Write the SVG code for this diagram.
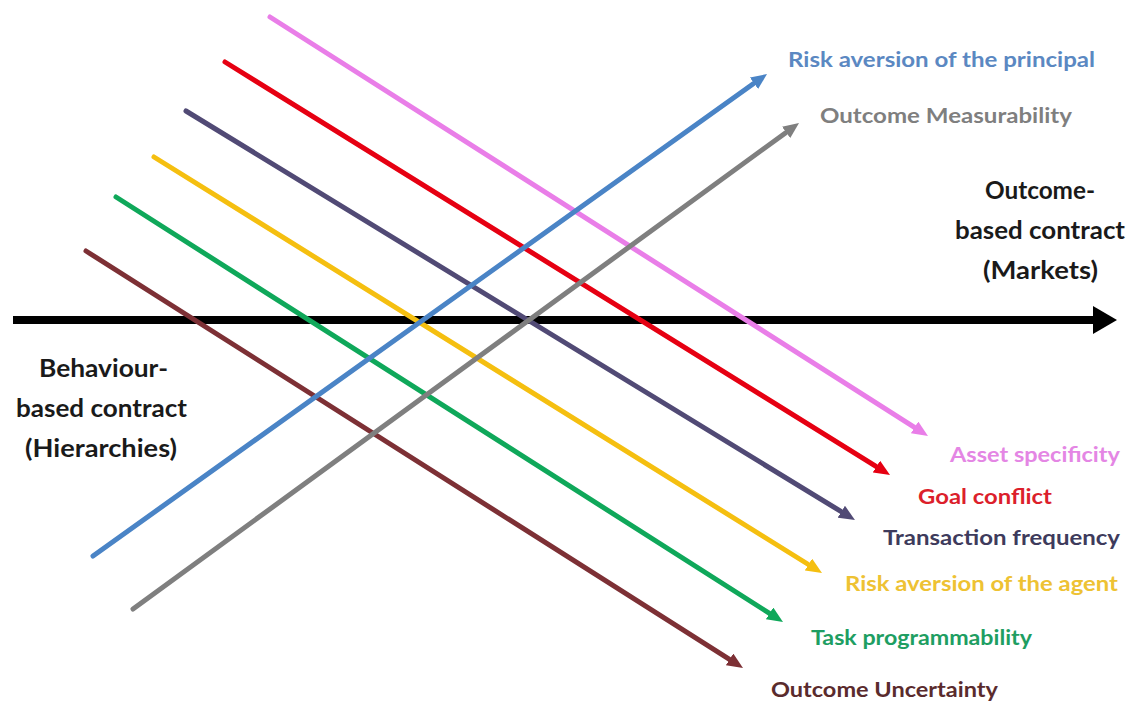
<svg xmlns="http://www.w3.org/2000/svg" width="1141" height="704" viewBox="0 0 1141 704">
  <style>
    .lbl { font-family: Lato, "Open Sans", "Liberation Sans", sans-serif; font-weight: bold; }
    .big { font-size: 25px; fill: #1a1a1a; }
    .fac { font-size: 21px; }
    .ln { fill: none; stroke-width: 5; stroke-linecap: round; }
  </style>
  <defs>
    <marker id="m-pink" viewBox="0 0 16 14" refX="0" refY="7" markerWidth="16" markerHeight="14" markerUnits="userSpaceOnUse" orient="auto"><path d="M0,0 L16,7 L0,14 z" fill="#e97ee8"/></marker>
    <marker id="m-red" viewBox="0 0 16 14" refX="0" refY="7" markerWidth="16" markerHeight="14" markerUnits="userSpaceOnUse" orient="auto"><path d="M0,0 L16,7 L0,14 z" fill="#e60012"/></marker>
    <marker id="m-purple" viewBox="0 0 16 14" refX="0" refY="7" markerWidth="16" markerHeight="14" markerUnits="userSpaceOnUse" orient="auto"><path d="M0,0 L16,7 L0,14 z" fill="#514a75"/></marker>
    <marker id="m-yellow" viewBox="0 0 16 14" refX="0" refY="7" markerWidth="16" markerHeight="14" markerUnits="userSpaceOnUse" orient="auto"><path d="M0,0 L16,7 L0,14 z" fill="#f5bf10"/></marker>
    <marker id="m-green" viewBox="0 0 16 14" refX="0" refY="7" markerWidth="16" markerHeight="14" markerUnits="userSpaceOnUse" orient="auto"><path d="M0,0 L16,7 L0,14 z" fill="#0fa85a"/></marker>
    <marker id="m-brown" viewBox="0 0 16 14" refX="0" refY="7" markerWidth="16" markerHeight="14" markerUnits="userSpaceOnUse" orient="auto"><path d="M0,0 L16,7 L0,14 z" fill="#7d3035"/></marker>
    <marker id="m-blue" viewBox="0 0 16 14" refX="0" refY="7" markerWidth="16" markerHeight="14" markerUnits="userSpaceOnUse" orient="auto"><path d="M0,0 L16,7 L0,14 z" fill="#4a84c6"/></marker>
    <marker id="m-gray" viewBox="0 0 16 14" refX="0" refY="7" markerWidth="16" markerHeight="14" markerUnits="userSpaceOnUse" orient="auto"><path d="M0,0 L16,7 L0,14 z" fill="#7f7f7f"/></marker>
  </defs>

  <rect width="1141" height="704" fill="#ffffff"/>

  <g id="connectors">
    <!-- main axis -->
    <line x1="13" y1="320" x2="1094" y2="320" stroke="#000" stroke-width="8"/>
    <polygon points="1093,306 1117,320 1093,334" fill="#000"/>
    <!-- descending factors -->
    <line class="ln" x1="270" y1="17" x2="914.5" y2="427.4" stroke="#e97ee8" marker-end="url(#m-pink)"/>
    <line class="ln" x1="225" y1="62" x2="876.4" y2="466.6" stroke="#e60012" marker-end="url(#m-red)"/>
    <line class="ln" x1="186" y1="111" x2="841.3" y2="511.7" stroke="#514a75" marker-end="url(#m-purple)"/>
    <line class="ln" x1="154" y1="157" x2="808.4" y2="564.5" stroke="#f5bf10" marker-end="url(#m-yellow)"/>
    <line class="ln" x1="116" y1="197" x2="769.5" y2="613.4" stroke="#0fa85a" marker-end="url(#m-green)"/>
    <line class="ln" x1="86" y1="251" x2="729.5" y2="659.4" stroke="#7d3035" marker-end="url(#m-brown)"/>
    <!-- ascending factors -->
    <line class="ln" x1="93" y1="556" x2="754" y2="83.3" stroke="#4a84c6" marker-end="url(#m-blue)"/>
    <line class="ln" x1="133" y1="609" x2="786.1" y2="132.4" stroke="#7f7f7f" marker-end="url(#m-gray)"/>
  </g>

  <g id="pole-outcome">
    <text class="lbl big" x="985" y="199" textLength="110" lengthAdjust="spacingAndGlyphs">Outcome-</text>
    <text class="lbl big" x="955" y="239" textLength="170" lengthAdjust="spacingAndGlyphs">based contract</text>
    <text class="lbl big" x="983" y="279" textLength="115" lengthAdjust="spacingAndGlyphs">(Markets)</text>
  </g>
  <g id="pole-behaviour">
    <text class="lbl big" x="39" y="377" textLength="129" lengthAdjust="spacingAndGlyphs">Behaviour-</text>
    <text class="lbl big" x="16" y="417" textLength="171" lengthAdjust="spacingAndGlyphs">based contract</text>
    <text class="lbl big" x="25" y="457" textLength="152" lengthAdjust="spacingAndGlyphs">(Hierarchies)</text>
  </g>

  <g id="risk-principal"><text class="lbl fac" x="788" y="67" textLength="307" lengthAdjust="spacingAndGlyphs" fill="#5b88c2">Risk aversion of the principal</text></g>
  <g id="outcome-measurability"><text class="lbl fac" x="820" y="123" textLength="252" lengthAdjust="spacingAndGlyphs" fill="#7f7f7f">Outcome Measurability</text></g>
  <g id="asset-specificity"><text class="lbl fac" x="950" y="462" textLength="170" lengthAdjust="spacingAndGlyphs" fill="#e486e4">Asset specificity</text></g>
  <g id="goal-conflict"><text class="lbl fac" x="918" y="504" textLength="134" lengthAdjust="spacingAndGlyphs" fill="#dc1f2c">Goal conflict</text></g>
  <g id="transaction-frequency"><text class="lbl fac" x="883" y="545" textLength="237" lengthAdjust="spacingAndGlyphs" fill="#3e3b5c">Transaction frequency</text></g>
  <g id="risk-agent"><text class="lbl fac" x="845" y="591" textLength="273" lengthAdjust="spacingAndGlyphs" fill="#eec233">Risk aversion of the agent</text></g>
  <g id="task-programmability"><text class="lbl fac" x="811" y="645" textLength="221" lengthAdjust="spacingAndGlyphs" fill="#1e9e62">Task programmability</text></g>
  <g id="outcome-uncertainty"><text class="lbl fac" x="771" y="697" textLength="227" lengthAdjust="spacingAndGlyphs" fill="#5a2b2d">Outcome Uncertainty</text></g>
</svg>
